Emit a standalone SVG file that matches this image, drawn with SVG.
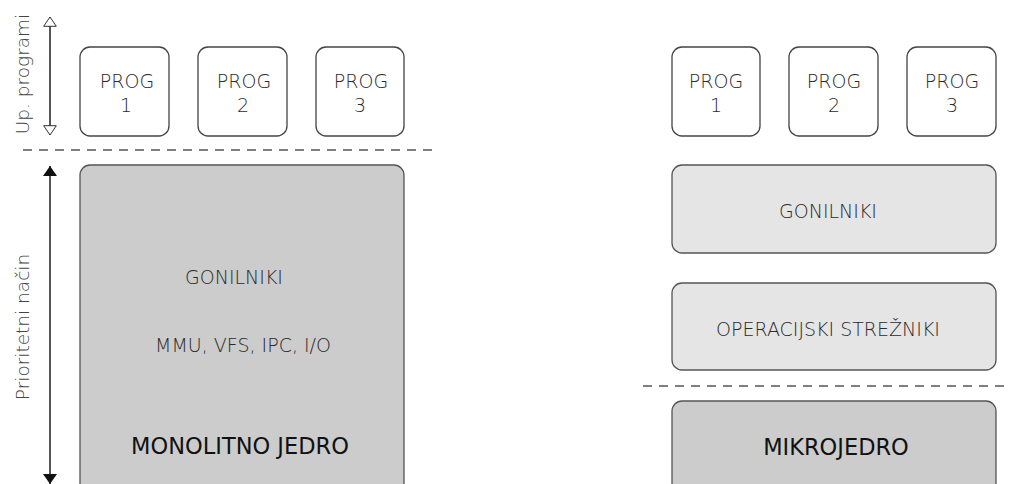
<svg xmlns="http://www.w3.org/2000/svg" width="1010" height="484" viewBox="0 0 1010 484">
  <style>
    .prog { fill: #ffffff; stroke: #444444; stroke-width: 1.3; }
    .kern { fill: #cccccc; stroke: #555555; stroke-width: 1.3; }
    .serv { fill: #e5e5e5; stroke: #555555; stroke-width: 1.3; }
    .sep { stroke: #555555; stroke-width: 1.3; stroke-dasharray: 9 7; fill: none; }
    .axis { stroke: #111111; stroke-width: 1.4; fill: none; }
    text { font-family: "DejaVu Sans", "Liberation Sans", sans-serif; text-anchor: middle; }
    .t { font-size: 19px; font-weight: 200; fill: #2a2a2a; }
    .tb { font-size: 22.5px; font-weight: 400; fill: #111111; }
    .side { font-size: 18.5px; font-weight: 200; fill: #444444; }
  </style>
  <defs>
    <marker id="openHead" viewBox="0 0 10 14" refX="10" refY="7" markerWidth="10" markerHeight="14" markerUnits="userSpaceOnUse" orient="auto">
      <path d="M0.7,0.7 L10,7 L0.7,13.3 Z" fill="#ffffff" stroke="#333333" stroke-width="1"/>
    </marker>
    <marker id="solidHead" viewBox="0 0 10 14" refX="10" refY="7" markerWidth="10" markerHeight="14" markerUnits="userSpaceOnUse" orient="auto">
      <path d="M0,0 L10,7 L0,14 Z" fill="#111111"/>
    </marker>
  </defs>

  <!-- separators and axes -->
  <g id="connectors">
    <line class="sep" x1="23" y1="150" x2="434" y2="150"/>
    <line class="sep" x1="643" y1="386" x2="1008" y2="386"/>
    <line class="axis" x1="50" y1="75" x2="50" y2="17" marker-end="url(#openHead)"/>
    <line class="axis" x1="50" y1="75" x2="50" y2="135" marker-end="url(#openHead)"/>
    <line class="axis" x1="50" y1="320" x2="50" y2="166" marker-end="url(#solidHead)"/>
    <line class="axis" x1="50" y1="320" x2="50" y2="484" marker-end="url(#solidHead)"/>
  </g>

  <g id="label-user">
    <text class="side" transform="translate(29,74) rotate(-90)">Up. programi</text>
  </g>
  <g id="label-kernel">
    <text class="side" transform="translate(29,327) rotate(-90)">Prioritetni način</text>
  </g>

  <!-- monolithic side -->
  <g id="mono-prog1">
    <rect class="prog" x="80" y="47" width="89" height="89" rx="10"/>
    <text class="t" x="127" y="88">PROG</text>
    <text class="t" x="126" y="112">1</text>
  </g>
  <g id="mono-prog2">
    <rect class="prog" x="198" y="47" width="89" height="89" rx="10"/>
    <text class="t" x="244" y="88">PROG</text>
    <text class="t" x="243" y="112">2</text>
  </g>
  <g id="mono-prog3">
    <rect class="prog" x="316" y="47" width="88" height="89" rx="10"/>
    <text class="t" x="361" y="88">PROG</text>
    <text class="t" x="360" y="112">3</text>
  </g>
  <g id="monolithic-kernel">
    <rect class="kern" x="80" y="165" width="324" height="330" rx="10"/>
    <text class="t" x="234" y="284">GONILNIKI</text>
    <text class="t" x="243" y="352">MMU, VFS, IPC, I/O</text>
    <text class="tb" x="240" y="454">MONOLITNO JEDRO</text>
  </g>

  <!-- microkernel side -->
  <g id="micro-prog1">
    <rect class="prog" x="672" y="47" width="88" height="89" rx="10"/>
    <text class="t" x="716" y="88">PROG</text>
    <text class="t" x="716" y="112">1</text>
  </g>
  <g id="micro-prog2">
    <rect class="prog" x="789" y="47" width="89" height="89" rx="10"/>
    <text class="t" x="834" y="88">PROG</text>
    <text class="t" x="834" y="112">2</text>
  </g>
  <g id="micro-prog3">
    <rect class="prog" x="907" y="47" width="89" height="89" rx="10"/>
    <text class="t" x="952" y="88">PROG</text>
    <text class="t" x="952" y="112">3</text>
  </g>
  <g id="drivers">
    <rect class="serv" x="672" y="165" width="324" height="88" rx="10"/>
    <text class="t" x="828" y="218">GONILNIKI</text>
  </g>
  <g id="servers">
    <rect class="serv" x="672" y="283" width="324" height="87" rx="10"/>
    <text class="t" x="828" y="336">OPERACIJSKI STREŽNIKI</text>
  </g>
  <g id="microkernel">
    <rect class="kern" x="672" y="401" width="324" height="100" rx="10"/>
    <text class="tb" x="836" y="455">MIKROJEDRO</text>
  </g>
</svg>
